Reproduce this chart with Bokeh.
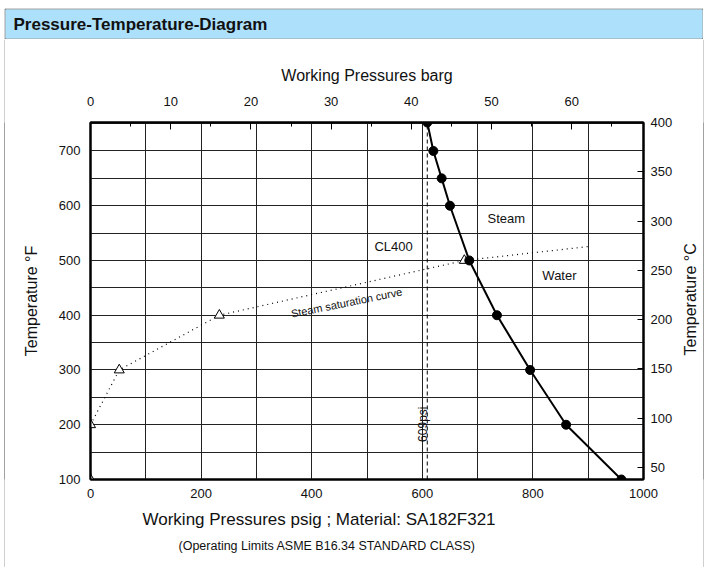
from bokeh.plotting import figure
from bokeh.models import (Range1d, LinearAxis, FixedTicker, Grid, Title, Spacer)
from bokeh.layouts import column, row
from bokeh.core.properties import value
from bokeh.embed import file_html
from bokeh.resources import INLINE
import math

# ---- data ----
temp_f = [100, 200, 300, 400, 500, 600, 650, 700, 752]
rating_psig = [960, 860, 795, 735, 685, 650, 635, 620, 609]

sat_marker_psig = [0, 0, 52, 233, 676]
sat_marker_f = [100, 200, 300, 400, 500]
sat_line_psig = [0, 52, 233, 676, 905]
sat_line_f = [200, 300, 400, 500, 526]

limit_psig = 609

x_ticks_psig = [0, 200, 400, 600, 800, 1000]
x_grid_psig = [100, 200, 300, 400, 500, 600, 700, 800, 900]
y_ticks_f = [100, 200, 300, 400, 500, 600, 700]
y_grid_f = [150, 200, 250, 300, 350, 400, 450, 500, 550, 600, 650, 700, 750]
y_ticks_c = [50, 100, 150, 200, 250, 300, 350, 400]
x_ticks_bar = [0, 10, 20, 30, 40, 50, 60]
x_minor_bar = [5, 15, 25, 35, 45, 55, 65]

region_text = ["CL400", "Steam", "Water"]
region_psig = [548, 752, 848]
region_f = [525, 576, 473]

FONT = "Liberation Sans"
LINE = "#444444"
PSI_PER_BAR = 14.5038
X0, X1, Y0, Y1 = 0, 1000, 100, 752

# ---- layout sizes (pixels) ----
MAIN_H = 528
HEAD_W, HEAD_H = 699, 31
FL, FT, FW, FH = 85, 83, 553, 357
LAB_W = 25


def no_grids(f):
    f.center = [c for c in f.center if not isinstance(c, Grid)]


def solid(w, h, color):
    f = figure(width=w, height=h, x_range=Range1d(0, 1), y_range=Range1d(0, 1),
               toolbar_location=None, x_axis_location=None, y_axis_location=None,
               min_border=0, output_backend="svg")
    no_grids(f)
    f.outline_line_color = None
    f.background_fill_color = color
    f.border_fill_color = color
    return f


# ---- header ----
head = figure(width=HEAD_W, height=HEAD_H, x_range=Range1d(0, HEAD_W - 2),
              y_range=Range1d(0, HEAD_H - 2), toolbar_location=None,
              x_axis_location=None, y_axis_location=None, min_border=1,
              output_backend="svg")
no_grids(head)
head.outline_line_color = None
head.background_fill_color = "#ade0fa"
head.border_fill_color = LINE
head.text(x=[8], y=[(HEAD_H - 2) / 2], text=["Pressure-Temperature-Diagram"],
          text_font=value(FONT), text_font_size="17px", text_font_style="bold",
          text_color="#111111", text_align="left", text_baseline="middle")

# ---- main chart ----
p = figure(frame_width=FW, frame_height=FH,
           x_range=Range1d(X0, X1), y_range=Range1d(Y0, Y1),
           output_backend="svg", toolbar_location=None,
           x_axis_location=None, y_axis_location=None,
           min_border_left=FL, min_border_right=35,
           min_border_top=FT, min_border_bottom=MAIN_H - FT - FH)
no_grids(p)
p.extra_x_ranges = {"bar": Range1d(0, X1 / PSI_PER_BAR)}
p.extra_y_ranges = {"c": Range1d((Y0 - 32) / 1.8, (Y1 - 32) / 1.8)}
p.outline_line_color = "black"
p.outline_line_width = 2
p.background_fill_color = "white"
p.border_fill_color = "white"

p.add_layout(Grid(dimension=0, ticker=FixedTicker(ticks=x_grid_psig),
                  grid_line_color="#222222", grid_line_width=1))
p.add_layout(Grid(dimension=1, ticker=FixedTicker(ticks=y_grid_f),
                  grid_line_color="#222222", grid_line_width=1))


def style(ax):
    ax.axis_line_color = "black"
    ax.axis_line_width = 2
    ax.major_label_text_font = FONT
    ax.major_label_text_font_size = "13px"
    ax.major_label_text_color = "#111111"
    ax.axis_label_text_font = FONT
    ax.axis_label_text_font_size = "16px"
    ax.axis_label_text_font_style = "normal"
    ax.axis_label_text_color = "#111111"
    ax.minor_tick_line_color = None
    ax.major_tick_out = 0
    ax.major_tick_in = 0


left = LinearAxis(ticker=FixedTicker(ticks=y_ticks_f), axis_label="Temperature °F")
style(left)
left.major_label_standoff = 10
left.axis_label_standoff = 16
p.add_layout(left, "left")

bottom = LinearAxis(ticker=FixedTicker(ticks=x_ticks_psig))
style(bottom)
bottom.major_label_standoff = 9
p.add_layout(bottom, "below")

top = LinearAxis(x_range_name="bar",
                 ticker=FixedTicker(ticks=x_ticks_bar, minor_ticks=x_minor_bar),
                 axis_label="Working Pressures barg")
style(top)
top.major_tick_in = 7
top.major_tick_line_color = "black"
top.minor_tick_line_color = "black"
top.minor_tick_in = 4
top.minor_tick_out = 0
top.major_label_standoff = 17
top.axis_label_standoff = 10
p.add_layout(top, "above")

right = LinearAxis(y_range_name="c", ticker=FixedTicker(ticks=y_ticks_c))
style(right)
right.major_tick_in = 6
right.major_tick_line_color = "black"
right.major_label_standoff = 7
p.add_layout(right, "right")

t1 = Title(text="Working Pressures psig ; Material: SA182F321", align="left",
           offset=52, text_font=FONT, text_font_size="17px",
           text_font_style="normal", text_color="#111111", standoff=14)
p.add_layout(t1, "below")
t2 = Title(text="(Operating Limits ASME B16.34 STANDARD CLASS)", align="left",
           offset=88, text_font=FONT, text_font_size="12.5px",
           text_font_style="normal", text_color="#111111", standoff=2)
p.add_layout(t2, "below")

# limit line 609 psi
p.line([limit_psig, limit_psig], [Y0, Y1], line_color="black",
       line_width=1, line_dash="4 3")

# saturation curve
p.line(sat_line_psig, sat_line_f, line_color="black", line_width=1.2, line_dash="1 4")
p.scatter(sat_marker_psig, sat_marker_f, marker="triangle", size=10,
          fill_color="white", line_color="black", line_width=1)

# pressure-temperature rating
p.line(rating_psig, temp_f, line_color="black", line_width=2)
p.scatter(rating_psig, temp_f, marker="circle", size=9,
          fill_color="black", line_color="black")

p.text(x=region_psig, y=region_f, text=region_text,
       text_font=value(FONT), text_font_size="13px", text_color="#111111",
       text_align="center", text_baseline="middle")
p.text(x=[463], y=[423], text=["Steam saturation curve"], angle=0.2,
       text_font=value(FONT), text_font_size="11px", text_color="#111111",
       text_align="center", text_baseline="middle")
p.text(x=[601], y=[201], text=["609psi"], angle=math.pi / 2,
       text_font=value(FONT), text_font_size="12px", text_color="#111111",
       text_align="center", text_baseline="middle")

# ---- right-hand axis title (reads bottom to top) ----
lab = figure(width=LAB_W, height=MAIN_H, x_range=Range1d(0, LAB_W),
             y_range=Range1d(0, MAIN_H), toolbar_location=None,
             x_axis_location=None, y_axis_location=None, min_border=0,
             output_backend="svg")
no_grids(lab)
lab.outline_line_color = None
lab.background_fill_color = "white"
lab.border_fill_color = "white"
lab.text(x=[12], y=[MAIN_H - (FT + FH / 2)], text=["Temperature °C"],
         angle=math.pi / 2, text_font=value(FONT), text_font_size="16px",
         text_color="#111111", text_align="center", text_baseline="middle")

page = column(
    Spacer(width=706, height=8),
    row(Spacer(width=4, height=HEAD_H), head),
    row(Spacer(width=4, height=MAIN_H), solid(1, MAIN_H, LINE), p, lab,
        solid(1, MAIN_H, LINE)),
    row(Spacer(width=4, height=1), solid(HEAD_W, 1, LINE)),
)

open("out.html", "w").write(file_html(page, INLINE))
